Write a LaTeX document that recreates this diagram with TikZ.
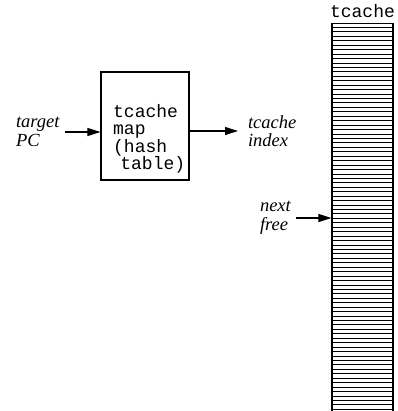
\documentclass[tikz,border=0pt]{standalone}
\usepackage{fontspec}
\setmainfont{Liberation Serif}
\setmonofont{Liberation Mono}
\usetikzlibrary{arrows.meta, positioning}
\tikzstyle{mapbox} = [rectangle, 
minimum width=88bp, 
minimum height=108bp, 
line width=1.1bp,
draw=black]
\tikzstyle{bufcol} = [rectangle, 
minimum width=61bp, 
minimum height=400bp, 
line width=1.1bp,
draw=black]
\tikzstyle{code} = [font=\ttfamily\fontsize{18bp}{17.4bp}\selectfont, align=left, inner sep=0pt]
\tikzstyle{note} = [font=\itshape\fontsize{18.5bp}{18.5bp}\selectfont, align=left, inner sep=0pt, outer sep=5bp]
\tikzstyle{arrow} = [line width=1.1bp, -{Triangle[length=13bp,width=8bp]}, draw=black]

\begin{document}
\begin{tikzpicture}[x=1bp, y=-1bp]
        \useasboundingbox (0,0) rectangle (398,411);

        % Nodes
        \node (map) [mapbox] at (145,126) {};
        \node (maptext) [code, anchor=north west] at (113,104) {tcache\\map\\(hash\\\hspace{0.4em}table)};
        \node (target) [note, anchor=west] at (11,132) {target\\PC};
        \node (index) [note, anchor=west] at (243,131) {tcache\\index};
        \node (next) [note, anchor=west] at (255,218) {next\\free};
        \node (tcache) [bufcol, anchor=north] at (362.5,23) {};
        \node (tcachename) [code, above=5bp of tcache.north] {tcache};

        % Rows of the tcache
        \foreach \i in {1,...,87}
            \draw [line width=0.9bp] ([yshift=-\i*4.44bp]tcache.north west) -- ([yshift=-\i*4.44bp]tcache.north east);

        % Connections
        \draw [arrow] (target) -- (target -| map.west);
        \draw [arrow, shorten >=5bp] (map.east |- index) -- (index);
        \draw [arrow] (next) -- (next -| tcache.west);

    \end{tikzpicture}
\end{document}
